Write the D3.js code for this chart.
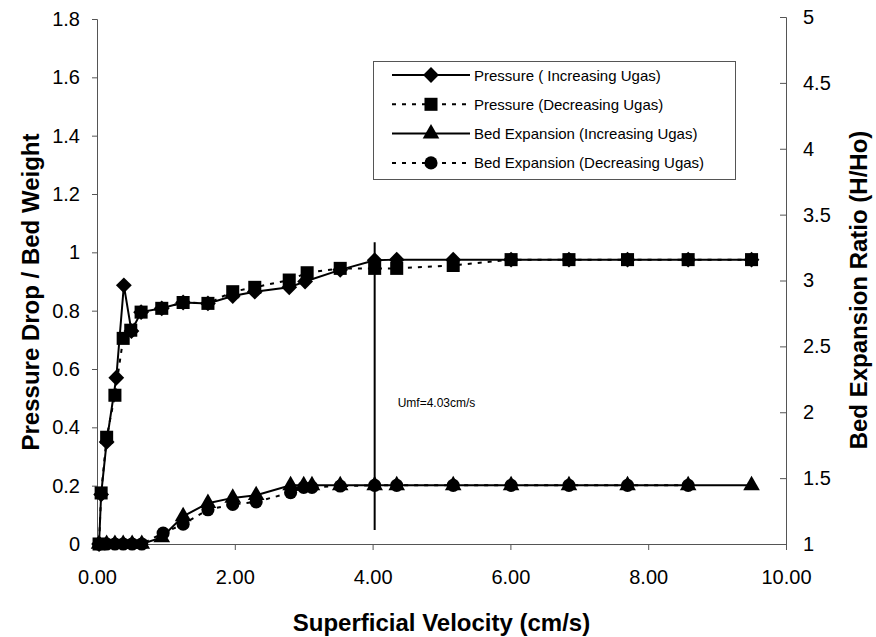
<!DOCTYPE html>
<html>
<head>
<meta charset="utf-8">
<script src="https://cdn.jsdelivr.net/npm/d3@7"></script>
<style>
  body { margin: 0; background: #fff; }
  svg { font-family: "Liberation Sans", Arial, sans-serif; }
  .tick text { font-size: 20px; fill: #000; }
  .axis-title { font-size: 24px; font-weight: bold; }
  .legend text { font-size: 15px; }
</style>
</head>
<body>
<svg id="chart"></svg>
<script>
// superficial velocity (cm/s) and readings taken off the figure
const pIncX = [0.03, 0.06, 0.14, 0.28, 0.39, 0.50, 0.64, 0.94, 1.25, 1.61, 1.97, 2.29, 2.79, 3.02, 3.53, 4.03, 4.35, 5.17, 6.01, 6.85, 7.70, 8.58, 9.50];
const pIncY = [0.00, 0.17, 0.35, 0.57, 0.887, 0.73, 0.795, 0.808, 0.828, 0.825, 0.85, 0.865, 0.88, 0.90, 0.94, 0.973, 0.975, 0.975, 0.975, 0.975, 0.975, 0.975, 0.975];

const pDecX = [9.50, 8.58, 7.70, 6.85, 6.01, 5.17, 4.35, 4.03, 3.53, 3.05, 2.79, 2.29, 1.97, 1.61, 1.25, 0.94, 0.64, 0.49, 0.38, 0.26, 0.14, 0.06, 0.03];
const pDecY = [0.975, 0.975, 0.975, 0.975, 0.975, 0.955, 0.945, 0.945, 0.945, 0.93, 0.905, 0.88, 0.865, 0.825, 0.828, 0.808, 0.795, 0.733, 0.705, 0.51, 0.366, 0.175, 0.00];

const bIncX = [0.03, 0.14, 0.26, 0.38, 0.51, 0.65, 0.94, 1.25, 1.61, 1.97, 2.31, 2.81, 3.00, 3.12, 3.53, 4.03, 4.35, 5.17, 6.01, 6.85, 7.70, 8.58, 9.50];
const bIncY = [1.00, 1.00, 1.00, 1.00, 1.00, 1.00, 1.05, 1.21, 1.31, 1.35, 1.37, 1.445, 1.445, 1.445, 1.445, 1.445, 1.445, 1.445, 1.445, 1.445, 1.445, 1.445, 1.445];

const bDecX = [8.58, 7.70, 6.85, 6.01, 5.17, 4.35, 4.03, 3.53, 3.12, 3.00, 2.81, 2.31, 1.97, 1.61, 1.25, 0.96, 0.65, 0.51, 0.38, 0.26, 0.14, 0.03];
const bDecY = [1.445, 1.445, 1.445, 1.445, 1.445, 1.445, 1.445, 1.44, 1.43, 1.43, 1.39, 1.32, 1.30, 1.26, 1.15, 1.083, 1.00, 1.00, 1.00, 1.00, 1.00, 1.00];

const xTicks = [0, 2, 4, 6, 8, 10];
const yLeftTicks = [0, 0.2, 0.4, 0.6, 0.8, 1, 1.2, 1.4, 1.6, 1.8];
const yRightTicks = [1, 1.5, 2, 2.5, 3, 3.5, 4, 4.5, 5];

const umf = 4.03;
const umfLine = [0.048, 1.035];

const legendLabels = [
  'Pressure ( Increasing Ugas)',
  'Pressure (Decreasing Ugas)',
  'Bed Expansion (Increasing Ugas)',
  'Bed Expansion (Decreasing Ugas)'
];

class FluidizationChart {
  constructor(_config) {
    this.config = {
      parentElement: _config.parentElement,
      containerWidth: 876,
      containerHeight: 637,
      margin: {top: 17, right: 90, bottom: 93, left: 97}
    };
    this.initVis();
  }

  initVis() {
    let vis = this;
    vis.width = vis.config.containerWidth - vis.config.margin.left - vis.config.margin.right;
    vis.height = vis.config.containerHeight - vis.config.margin.top - vis.config.margin.bottom;

    vis.svg = d3.select(vis.config.parentElement)
      .attr('width', vis.config.containerWidth)
      .attr('height', vis.config.containerHeight);

    vis.chart = vis.svg.append('g')
      .attr('transform', `translate(${vis.config.margin.left},${vis.config.margin.top})`);

    vis.xScale = d3.scaleLinear().domain([0, 10]).range([0, vis.width]);
    vis.yLeft = d3.scaleLinear().domain([0, 1.8]).range([vis.height, 2]);
    vis.yRight = d3.scaleLinear().domain([1, 5]).range([vis.height, 0]);

    vis.xAxis = d3.axisBottom(vis.xScale).tickValues(xTicks).tickFormat(d3.format('.2f'))
      .tickSize(6).tickPadding(20);
    vis.yAxisL = d3.axisLeft(vis.yLeft).tickValues(yLeftTicks).tickFormat(d => d3.format('')(+d.toFixed(1)))
      .tickSize(5).tickPadding(12);
    vis.yAxisR = d3.axisRight(vis.yRight).tickValues(yRightTicks).tickFormat(d => d3.format('')(d))
      .tickSize(-6).tickPadding(17);

    vis.renderVis();
  }

  renderVis() {
    let vis = this;

    const styleAxis = g => {
      g.select('.domain').attr('stroke', '#555');
      g.selectAll('.tick line').attr('stroke', '#555');
    };

    vis.chart.append('g').attr('transform', `translate(0,${vis.height})`)
      .call(vis.xAxis).call(styleAxis);
    vis.chart.append('g').call(vis.yAxisL).call(styleAxis);
    vis.chart.append('g').attr('transform', `translate(${vis.width},0)`)
      .call(vis.yAxisR).call(styleAxis);
    vis.chart.selectAll('.tick text').attr('fill', '#000');

    // axis titles
    vis.svg.append('text').attr('class', 'axis-title')
      .attr('x', vis.config.margin.left + vis.width / 2).attr('y', 631)
      .attr('text-anchor', 'middle').text('Superficial Velocity (cm/s)');
    vis.svg.append('text').attr('class', 'axis-title')
      .attr('transform', `translate(39,292) rotate(-90)`)
      .attr('text-anchor', 'middle').text('Pressure Drop / Bed Weight');
    vis.svg.append('text').attr('class', 'axis-title')
      .attr('transform', `translate(867,290) rotate(-90)`)
      .attr('text-anchor', 'middle').text('Bed Expansion Ratio (H/Ho)');

    // Umf marker
    vis.chart.append('line')
      .attr('x1', vis.xScale(umf)).attr('x2', vis.xScale(umf))
      .attr('y1', vis.yLeft(umfLine[0])).attr('y2', vis.yLeft(umfLine[1]))
      .attr('stroke', '#000').attr('stroke-width', 2);
    vis.chart.append('text')
      .attr('x', vis.xScale(umf) + 23).attr('y', vis.yLeft(0.47))
      .style('font-size', '12px').text('Umf=4.03cm/s');

    const series = [
      {x: pIncX, y: pIncY, scale: vis.yLeft, dash: null, sym: 'diamond'},
      {x: pDecX, y: pDecY, scale: vis.yLeft, dash: '4,6', sym: 'square'},
      {x: bIncX, y: bIncY, scale: vis.yRight, dash: null, sym: 'triangle'},
      {x: bDecX, y: bDecY, scale: vis.yRight, dash: '4,6', sym: 'circle'}
    ];

    const symbolPath = {
      diamond: d3.symbol(d3.symbolSquare, 125)(),
      square: d3.symbol(d3.symbolSquare, 170)(),
      triangle: d3.symbol(d3.symbolTriangle, 120)(),
      circle: d3.symbol(d3.symbolCircle, 135)()
    };
    const symbolRot = {diamond: 45, square: 0, triangle: 0, circle: 0};

    series.forEach(s => {
      const pts = s.x.map((x, i) => [x, s.y[i]]);
      const line = d3.line().x(d => vis.xScale(d[0])).y(d => s.scale(d[1]));
      vis.chart.append('path')
        .attr('d', line(pts))
        .attr('fill', 'none').attr('stroke', '#000').attr('stroke-width', 2)
        .attr('stroke-dasharray', s.dash);
      vis.chart.selectAll(null).data(pts).join('path')
        .attr('d', symbolPath[s.sym])
        .attr('transform', d => `translate(${vis.xScale(d[0])},${s.scale(d[1])}) rotate(${symbolRot[s.sym]})`)
        .attr('fill', '#000');
    });

    // legend
    const lg = vis.svg.append('g').attr('class', 'legend');
    lg.append('rect').attr('x', 373.5).attr('y', 61.5).attr('width', 362).attr('height', 118)
      .attr('fill', '#fff').attr('stroke', '#555');
    series.forEach((s, i) => {
      const y = 75 + i * 29.3;
      lg.append('line').attr('x1', 392).attr('x2', 470).attr('y1', y).attr('y2', y)
        .attr('stroke', '#000').attr('stroke-width', 2).attr('stroke-dasharray', s.dash);
      lg.append('path').attr('d', symbolPath[s.sym])
        .attr('transform', `translate(431,${y}) rotate(${symbolRot[s.sym]})`);
      lg.append('text').attr('x', 474).attr('y', y + 5.5).text(legendLabels[i]);
    });
  }
}

new FluidizationChart({parentElement: '#chart'});
</script>
</body>
</html>
